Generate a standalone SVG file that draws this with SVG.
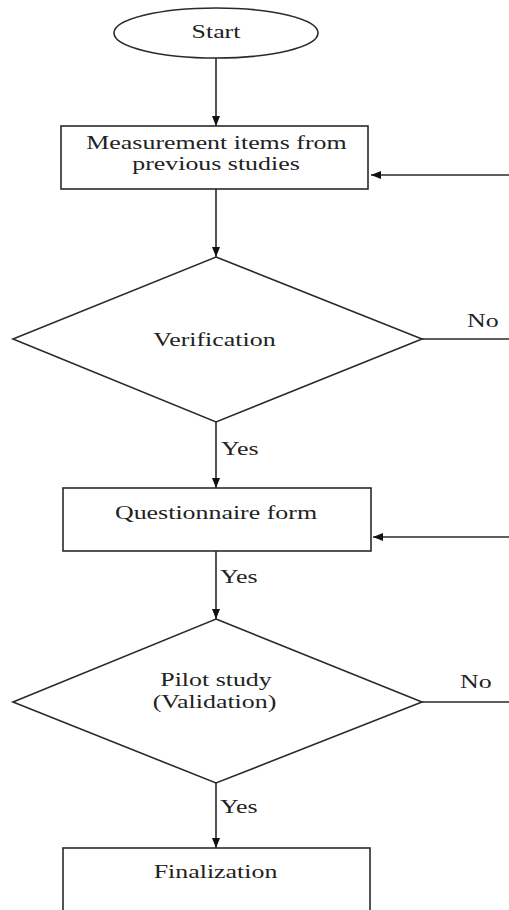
<svg xmlns="http://www.w3.org/2000/svg" width="509" height="910" viewBox="0 0 509 910">
<style>
.shape{fill:#fff;stroke:#2a2a2a;stroke-width:1.6}
.conn{fill:none;stroke:#2a2a2a;stroke-width:1.6}
text{font-family:"Liberation Serif","Times New Roman",serif;font-size:18.5px;fill:#222}
.c{text-anchor:middle}
</style>
<defs>
<marker id="arr" markerUnits="userSpaceOnUse" markerWidth="10" markerHeight="10" viewBox="0 0 10 10" refX="10" refY="5" orient="auto">
<path d="M0,1 L10,5 L0,9 Z" fill="#111"/>
</marker>
</defs>
<rect width="509" height="910" fill="#fff"/>
<g id="connectors">
<line class="conn" x1="216" y1="58" x2="216" y2="126" marker-end="url(#arr)"/>
<line class="conn" x1="216" y1="189" x2="216" y2="257" marker-end="url(#arr)"/>
<line class="conn" x1="216" y1="422" x2="216" y2="488" marker-end="url(#arr)"/>
<line class="conn" x1="216" y1="551" x2="216" y2="619" marker-end="url(#arr)"/>
<line class="conn" x1="216" y1="783" x2="216" y2="848" marker-end="url(#arr)"/>
<line class="conn" x1="422" y1="339" x2="509" y2="339"/>
<line class="conn" x1="509" y1="175" x2="371" y2="175" marker-end="url(#arr)"/>
<line class="conn" x1="422" y1="702" x2="509" y2="702"/>
<line class="conn" x1="509" y1="537" x2="373" y2="537" marker-end="url(#arr)"/>
<text transform="scale(1.4 1)" x="157.86" y="455">Yes</text>
<text transform="scale(1.4 1)" x="157.14" y="583">Yes</text>
<text transform="scale(1.4 1)" x="157.14" y="813">Yes</text>
<text transform="scale(1.4 1)" x="333.57" y="327">No</text>
<text transform="scale(1.4 1)" x="328.57" y="688">No</text>
</g>
<g id="start">
<ellipse class="shape" cx="216" cy="33" rx="102" ry="25"/>
<text class="c" transform="scale(1.4 1)" x="154.29" y="38">Start</text>
</g>
<g id="measurement">
<rect class="shape" x="61" y="126" width="307" height="63"/>
<text class="c" transform="scale(1.4 1)" x="154.64" y="149">Measurement items from</text>
<text class="c" transform="scale(1.4 1)" x="154.29" y="170">previous studies</text>
</g>
<g id="verification">
<polygon class="shape" points="216,257 422,339 216,422 13,339"/>
<text class="c" transform="scale(1.4 1)" x="153.21" y="346">Verification</text>
</g>
<g id="questionnaire">
<rect class="shape" x="63" y="488" width="308" height="63"/>
<text class="c" transform="scale(1.4 1)" x="154.29" y="519">Questionnaire form</text>
</g>
<g id="pilot">
<polygon class="shape" points="216,619 422,702 216,783 13,702"/>
<text class="c" transform="scale(1.4 1)" x="154.29" y="686">Pilot study</text>
<text class="c" transform="scale(1.4 1)" x="153.21" y="708">(Validation)</text>
</g>
<g id="finalization">
<rect class="shape" x="63" y="848" width="307" height="90"/>
<text class="c" transform="scale(1.4 1)" x="153.93" y="878">Finalization</text>
</g>
</svg>
